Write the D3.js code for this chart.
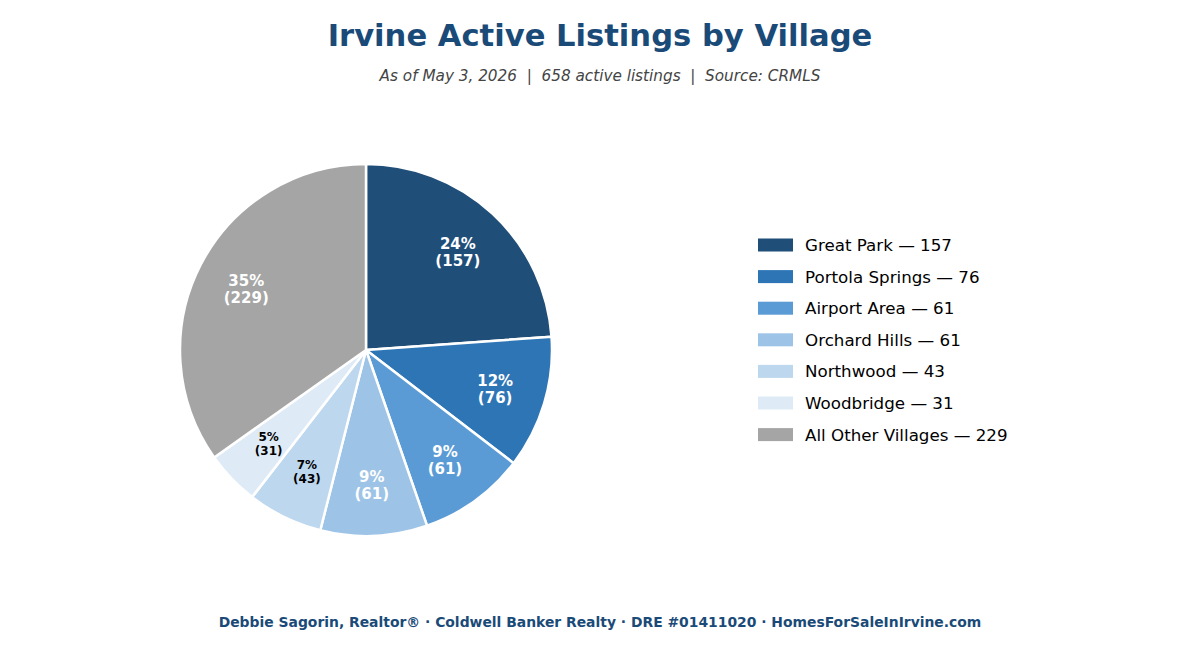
<!DOCTYPE html>
<html><head><meta charset="utf-8">
<script src="https://cdn.jsdelivr.net/npm/d3@7/dist/d3.min.js"></script>
<style>body{margin:0;background:#fff;}svg{display:block;font-family:"DejaVu Sans",sans-serif;}</style>
</head><body>
<svg id="c" width="1200" height="650"></svg>
<script>
const villages = ["Great Park","Portola Springs","Airport Area","Orchard Hills","Northwood","Woodbridge","All Other Villages"];
const listings = [157,76,61,61,43,31,229];
const colors = ["#1f4e79","#2e75b6","#5b9bd5","#9dc3e6","#bdd7ee","#deebf7","#a5a5a5"];
const labelColors = ["#fff","#fff","#fff","#fff","#000","#000","#fff"];

const svg = d3.select("#c");
const total = d3.sum(listings);
const data = villages.map((v,i)=>({name:v,value:listings[i],color:colors[i],lc:labelColors[i]}));

svg.append("text").attr("x",600).attr("y",46).attr("text-anchor","middle")
  .attr("font-size",30.6).attr("font-weight","bold").attr("fill","#1a4a78").text("Irvine Active Listings by Village");
svg.append("text").attr("x",600).attr("y",81).attr("text-anchor","middle")
  .attr("font-size",15.25).attr("font-style","italic").attr("fill","#444")
  .text("As of May 3, 2026  |  658 active listings  |  Source: CRMLS").attr("xml:space","preserve").style("white-space","pre");

const cx=366, cy=350, R=186;
const pie = d3.pie().value(d=>d.value).sort(null);
const arc = d3.arc().innerRadius(0).outerRadius(R);
const labelArc = d3.arc().innerRadius(R*0.725).outerRadius(R*0.725);
const g = svg.append("g").attr("transform",`translate(${cx},${cy})`);
const arcs = pie(data);
g.selectAll("path").data(arcs).join("path").attr("d",arc)
  .attr("fill",d=>d.data.color).attr("stroke","#fff").attr("stroke-width",2.5).attr("stroke-linejoin","round");

arcs.forEach(d=>{
  const [x,y]=labelArc.centroid(d);
  const pct=Math.round(d.data.value/total*100);
  const small = d.data.value<50;
  const fs = small?12:15;
  const t=g.append("text").attr("x",x).attr("y",y).attr("text-anchor","middle")
    .attr("font-size",fs).attr("font-weight","bold").attr("fill",d.data.lc);
  t.append("tspan").attr("x",x).attr("dy",-fs*0.15).text(pct+"%");
  t.append("tspan").attr("x",x).attr("dy",fs*1.13).text("("+d.data.value+")");
});

const lg = svg.append("g");
data.forEach((d,i)=>{
  const y = 245 + i*31.6;
  lg.append("rect").attr("x",758).attr("y",y-6.5).attr("width",35).attr("height",13).attr("fill",d.color);
  lg.append("text").attr("x",805).attr("y",y+6).attr("font-size",16.7).attr("fill","#000").text(d.name+" — "+d.value);
});

svg.append("text").attr("x",600).attr("y",627).attr("text-anchor","middle")
  .attr("font-size",13.9).attr("font-weight","bold").attr("fill","#1a4a78")
  .text("Debbie Sagorin, Realtor® · Coldwell Banker Realty · DRE #01411020 · HomesForSaleInIrvine.com");
</script>
</body></html>
